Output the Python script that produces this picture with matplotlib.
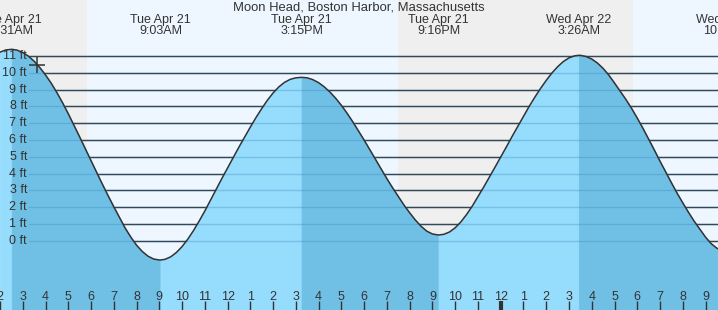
"""
Tide prediction chart, Moon Head, Boston Harbor.
Heights read off the NOAA-style chart every quarter hour (feet, MLLW).
"""

import numpy as np
import matplotlib
matplotlib.use('Agg')
import matplotlib.pyplot as plt
from matplotlib import transforms

plt.rcParams['font.family'] = ['Liberation Sans', 'DejaVu Sans']

TITLE = 'Moon Head, Boston Harbor, Massachusetts'

# quarter hours since Tue Apr 21 00:00, from 2:00AM Tue to 10:00AM Wed
hours = list(np.arange(2.0, 34.01, 0.25))
height_ft = [
    11.23, 11.36, 11.40, 11.35, 11.21, 10.99, 10.69, 10.31, 9.87, 9.38,
    8.82, 8.21, 7.56, 6.87, 6.18, 5.47, 4.76, 4.06, 3.36, 2.68,
    2.02, 1.38, 0.75, 0.21, -0.27, -0.64, -0.92, -1.09, -1.15, -1.11,
    -0.96, -0.70, -0.35, 0.09, 0.60, 1.17, 1.77, 2.42, 3.06, 3.71,
    4.34, 4.96, 5.58, 6.18, 6.77, 7.34, 7.87, 8.37, 8.80, 9.16,
    9.43, 9.61, 9.70, 9.73, 9.70, 9.59, 9.41, 9.16, 8.85, 8.48,
    8.06, 7.59, 7.08, 6.54, 5.99, 5.42, 4.84, 4.26, 3.69, 3.15,
    2.63, 2.12, 1.66, 1.23, 0.86, 0.57, 0.40, 0.34, 0.38, 0.52,
    0.77, 1.12, 1.56, 2.06, 2.62, 3.19, 3.78, 4.38, 4.98, 5.59,
    6.21, 6.81, 7.42, 8.00, 8.55, 9.07, 9.55, 9.99, 10.36, 10.67,
    10.89, 11.01, 11.04, 10.97, 10.82, 10.58, 10.26, 9.86, 9.39, 8.90,
    8.41, 7.88, 7.30, 6.69, 6.05, 5.40, 4.73, 4.09, 3.45, 2.83,
    2.25, 1.69, 1.16, 0.68, 0.21, -0.18, -0.45, -0.61, -0.66,
]

# high / low tides
ext_hours = [2.517, 9.05, 15.25, 21.267, 27.433, 34.0]
ext_ft = [11.40, -1.15, 9.73, 0.34, 11.04, -0.66]
ext_day = ['Tue Apr 21', 'Tue Apr 21', 'Tue Apr 21', 'Tue Apr 21', 'Wed Apr 22', 'Wed Apr 22']
ext_time = ['2:31AM', '9:03AM', '3:15PM', '9:16PM', '3:26AM', '10:00AM']

# night shading (sunset -> sunrise)
night_start = [1.0, 19.49]
night_end = [5.82, 29.81]

# current time marker
now_hour, now_ft = 3.63, 10.46

ft_levels = list(range(0, 12))
hour_ticks = list(range(2, 34))
hour_labels = [str((hh - 1) % 12 + 1) for hh in hour_ticks]

DARK = '#333333'
DAY_BG = '#eef7ff'
NIGHT_BG = '#efefef'
WATER_RISE = '#96dcfd'
WATER_FALL = '#70c0e6'

x_left, x_right = 2.0, 2.0 + 718 / 22.76
y_bottom, y_top = -4.127, 14.336

fig = plt.figure(figsize=(7.18, 3.10), dpi=100)
ax = fig.add_axes([0, 0, 1, 1])
ax.set_xlim(x_left, x_right)
ax.set_ylim(y_bottom, y_top)
ax.set_facecolor(DAY_BG)
for s in ax.spines.values():
    s.set_visible(False)
ax.set_yticks([])

for a, b in zip(night_start, night_end):
    ax.axvspan(a, b, color=NIGHT_BG, lw=0, zorder=0)

# grid lines, dark above the water
lab_frac = 29 / 718
for ft in ft_levels:
    ax.axhline(ft, xmin=lab_frac, color=DARK, lw=1.0, zorder=1)

# water, coloured by rising / falling tide
t = np.array(hours + ext_hours)
h = np.array(height_ft + ext_ft)
order = np.argsort(t, kind='stable')
t, h = t[order], h[order]

bounds = [t[0]] + ext_hours + [t[-1]]
for a, b in zip(bounds[:-1], bounds[1:]):
    if b <= a:
        continue
    m = (t >= a) & (t <= b)
    rising = h[m][-1] > h[m][0]
    col = WATER_RISE if rising else WATER_FALL
    ax.fill_between(t[m], h[m], y_bottom, color=col, lw=0.6, edgecolor=col, zorder=2)

# grid lines seen through the water
for ft in ft_levels:
    ax.axhline(ft, xmin=lab_frac, color='#2f7fb5', alpha=0.3, lw=1.0, zorder=3)

ax.plot(t, h, color=DARK, lw=1.1, zorder=4)
ax.plot(now_hour, now_ft, marker='+', ms=11, mew=1.1, color=DARK, zorder=5)

# y labels
ylab_tr = transforms.blended_transform_factory(ax.transAxes, ax.transData)
for ft in ft_levels:
    ax.text(27 / 718, ft, f'{ft} ft', transform=ylab_tr, ha='right', va='center',
            fontsize=9, color=DARK, zorder=6)

# hour ticks inside the plot
ax.set_xticks(hour_ticks)
ax.set_xticklabels(hour_labels)
ax.tick_params(axis='x', direction='in', length=6.5, width=1, color=DARK,
               labelsize=9, labelcolor=DARK, pad=-13.5)
ax.xaxis.set_zorder(6)
ax.xaxis.get_major_ticks()[hour_ticks.index(24)].tick1line.set_markeredgewidth(3)

# extreme labels
for et, day, tm in zip(ext_hours, ext_day, ext_time):
    ax.text(et, 1 - 25.5 / 310, day + '\n' + tm, transform=ax.get_xaxis_transform(),
            ha='center', va='center', fontsize=9, color=DARK, linespacing=0.95,
            clip_on=False, zorder=6)

fig.text(0.5, 1 - 7 / 310, TITLE, ha='center', va='center', fontsize=9.4, color=DARK)

fig.savefig('out.png', dpi=100)
